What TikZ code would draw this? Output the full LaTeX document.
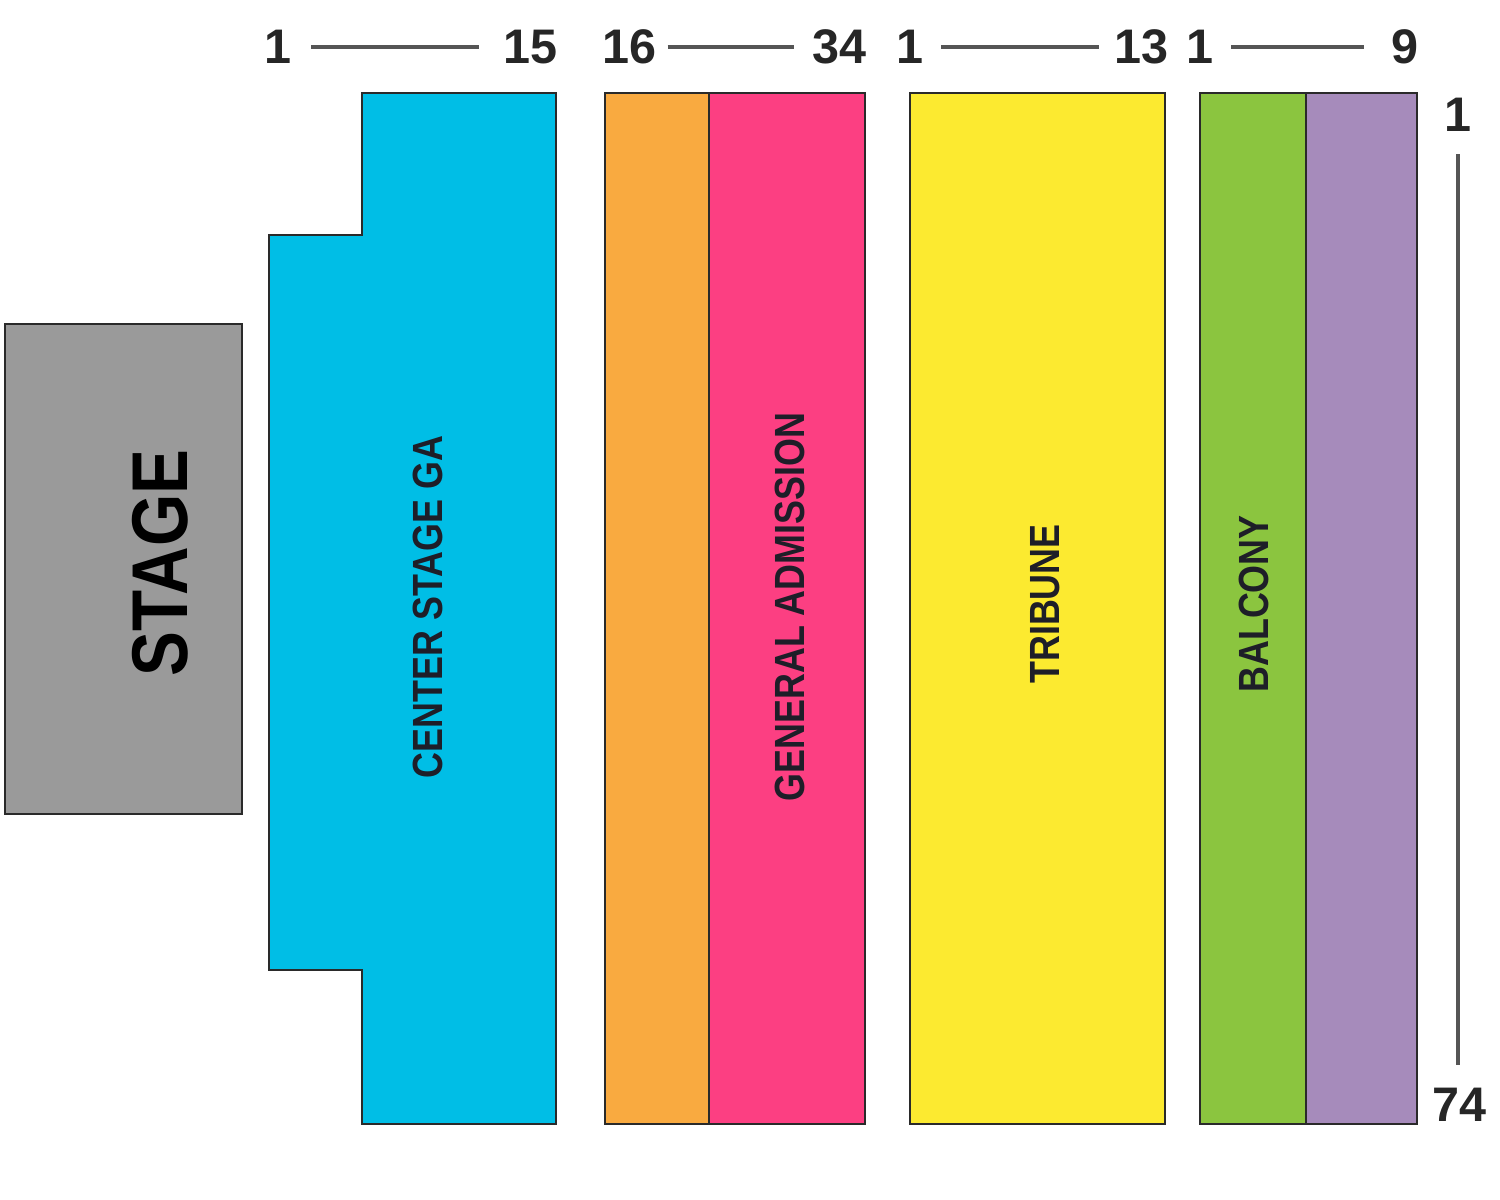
\documentclass[tikz,border=0pt]{standalone}
\usepackage{fontspec}
\setmainfont{Liberation Sans}
\newfontfamily\condfont[FakeStretch=0.85]{Liberation Sans}
\definecolor{stagegray}{HTML}{9A9A9A}
\definecolor{csga}{HTML}{00BEE6}
\definecolor{gaorange}{HTML}{F9AA40}
\definecolor{gapink}{HTML}{FC3F82}
\definecolor{tribyellow}{HTML}{FCEA30}
\definecolor{balgreen}{HTML}{8BC53F}
\definecolor{balpurple}{HTML}{A68BBB}
\definecolor{edge}{HTML}{2A2A2A}
\definecolor{rule}{HTML}{555555}
\definecolor{ink}{HTML}{1E1E28}
\tikzset{
  section/.style={draw=edge, line width=0.6pt},
  sectlabel/.style={font=\condfont\bfseries\fontsize{12}{14}\selectfont, text=ink, rotate=90, inner sep=0pt},
  numlabel/.style={font=\bfseries\fontsize{13.8}{16}\selectfont, text=black!85, inner sep=0pt},
  rangeline/.style={draw=rule, line width=0.9pt}
}
\begin{document}
\begin{tikzpicture}[x=0.01cm, y=-0.01cm]
\useasboundingbox (0,0) rectangle (1500,1200);
% stage
\draw[section, fill=stagegray] (5,324) rectangle (242,814);
\node[sectlabel, font=\condfont\bfseries\fontsize{22.5}{26}\selectfont, text=black] (stage) at (160,563) {STAGE};
% center stage GA
\draw[section, fill=csga] (362,93) -- (556,93) -- (556,1124) -- (362,1124) -- (362,970) -- (269,970) -- (269,235) -- (362,235) -- cycle;
\node[sectlabel] (csgalbl) at (428,607) {CENTER STAGE GA};
% general admission
\draw[section, fill=gaorange] (605,93) rectangle (709,1124);
\draw[section, fill=gapink] (709,93) rectangle (865,1124);
\node[sectlabel] (galbl) at (790,607) {GENERAL ADMISSION};
% tribune
\draw[section, fill=tribyellow] (910,93) rectangle (1165,1124);
\node[sectlabel] (triblbl) at (1045,604) {TRIBUNE};
% balcony
\draw[section, fill=balgreen] (1200,93) rectangle (1306,1124);
\draw[section, fill=balpurple] (1306,93) rectangle (1417,1124);
\node[sectlabel] (ballbl) at (1254,604) {BALCONY};
% top numbers
\node[numlabel] (a1) at (278,47) {1};
\node[numlabel] (a15) at (530,47) {15};
\node[numlabel] (b16) at (629,47) {16};
\node[numlabel] (b34) at (839,47) {34};
\node[numlabel] (c1) at (910,47) {1};
\node[numlabel] (c13) at (1141,47) {13};
\node[numlabel] (d1) at (1200,47) {1};
\node[numlabel] (d9) at (1405,47) {9};
\node[numlabel] (r1) at (1458,115) {1};
\node[numlabel] (r74) at (1459,1105) {74};
\draw[rangeline, shorten <=0.19cm, shorten >=0.23cm] (a1.east) -- (a15.west);
\draw[rangeline, shorten <=0.11cm, shorten >=0.17cm] (b16.east) -- (b34.west);
\draw[rangeline, shorten <=0.17cm, shorten >=0.14cm] (c1.east) -- (c13.west);
\draw[rangeline, shorten <=0.17cm, shorten >=0.27cm] (d1.east) -- (d9.west);
\draw[rangeline, shorten <=0.22cm, shorten >=0.23cm] (r1.south) -- (r1.south |- r74.north);
\end{tikzpicture}
\end{document}
